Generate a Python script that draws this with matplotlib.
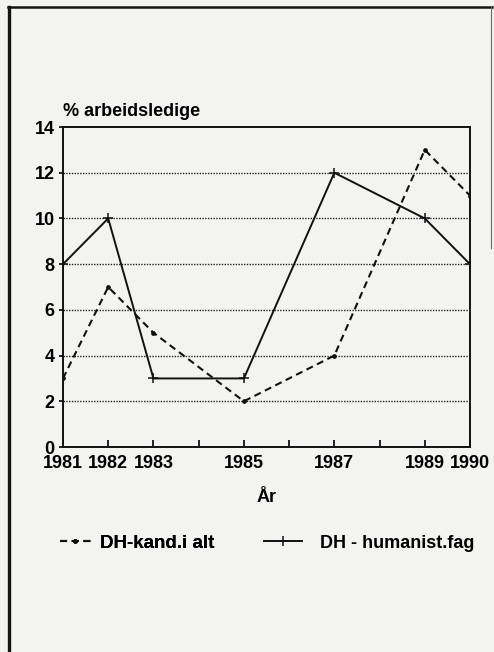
import numpy as np
import matplotlib
matplotlib.use('Agg')
import matplotlib.pyplot as plt
from matplotlib.lines import Line2D

plt.rcParams['font.family'] = ['Liberation Sans', 'DejaVu Sans']

# arbeidsledighet blant doktorgradskandidater
years = [1981, 1982, 1983, 1985, 1987, 1989, 1990]
kand_alt = [3, 7, 5, 2, 4, 13, 11]
humanist_fag = [8, 10, 3, 3, 12, 10, 8]
year_labels = ['1981', '1982', '1983', '1985', '1987', '1989', '1990']
y_ticks = [0, 2, 4, 6, 8, 10, 12, 14]

bg = '#f3f3f1'
fig = plt.figure(figsize=(4.94, 6.52), dpi=100, facecolor=bg)
ax = fig.add_axes([0.1275, 0.3144, 0.8239, 0.4908])
ax.set_facecolor(bg)

# ramme rundt hele figuren
fig.add_artist(Line2D([9 / 494, 9 / 494], [0, 1 - 7 / 652], color='#151515', lw=2.4, transform=fig.transFigure))
fig.add_artist(Line2D([8 / 494, 492 / 494], [1 - 7 / 652, 1 - 7 / 652], color='#151515', lw=1.8, transform=fig.transFigure))
fig.add_artist(Line2D([491 / 494, 491 / 494], [1 - 7 / 652, 0.62], color='#666666', lw=0.8, transform=fig.transFigure))

l1, = ax.plot(years, kand_alt, color='#111111', lw=1.5, dashes=(3.4, 2.2),
              marker='o', ms=2.4, label='DH-kand.i alt')
l2, = ax.plot(years, humanist_fag, color='#111111', lw=1.4,
              marker='+', ms=7, mew=1.1, label='DH - humanist.fag')

ax.set_xlim(1981, 1990)
ax.set_ylim(0, 14)
ax.set_yticks(y_ticks)
ax.set_xticks(range(1981, 1991))
ax.set_xticklabels([str(y) if str(y) in year_labels else '' for y in range(1981, 1991)])

for v in y_ticks[1:-1]:
    ax.axhline(v, color='#222222', lw=1.0, ls=(0, (1, 1)), zorder=1)

for s in ax.spines.values():
    s.set_linewidth(1.4)
    s.set_color('#111111')

ax.tick_params(axis='x', direction='in', length=5, width=1.2, pad=6, labelsize=13)
ax.tick_params(axis='y', direction='out', length=3, width=1.2, pad=3, labelsize=13)
for t in ax.get_xticklabels() + ax.get_yticklabels():
    t.set_fontweight('bold')

fig.text(63 / 494, 1 - 112 / 652, '% arbeidsledige', fontsize=13, fontweight='bold',
         ha='left', va='center')
fig.text(267 / 494, 1 - 497 / 652, 'År', fontsize=13, fontweight='bold',
         ha='center', va='center')

# to separate forklaringer, ulik lengde på linjeprøvene
leg_y = 1 - 543 / 652
leg1 = fig.legend(handles=[l1], loc='center left', bbox_to_anchor=(60 / 494, leg_y),
                  frameon=False, handlelength=1.65, handletextpad=0.5, numpoints=1,
                  borderpad=0, borderaxespad=0, prop={'weight': 'bold', 'size': 13.5})
leg2 = fig.legend(handles=[l2], loc='center left', bbox_to_anchor=(264 / 494, leg_y),
                  frameon=False, handlelength=2.1, handletextpad=1.0, numpoints=1,
                  borderpad=0, borderaxespad=0, prop={'weight': 'bold', 'size': 13})
fig.add_artist(leg1)

fig.savefig('out.png', dpi=100, facecolor=bg)
